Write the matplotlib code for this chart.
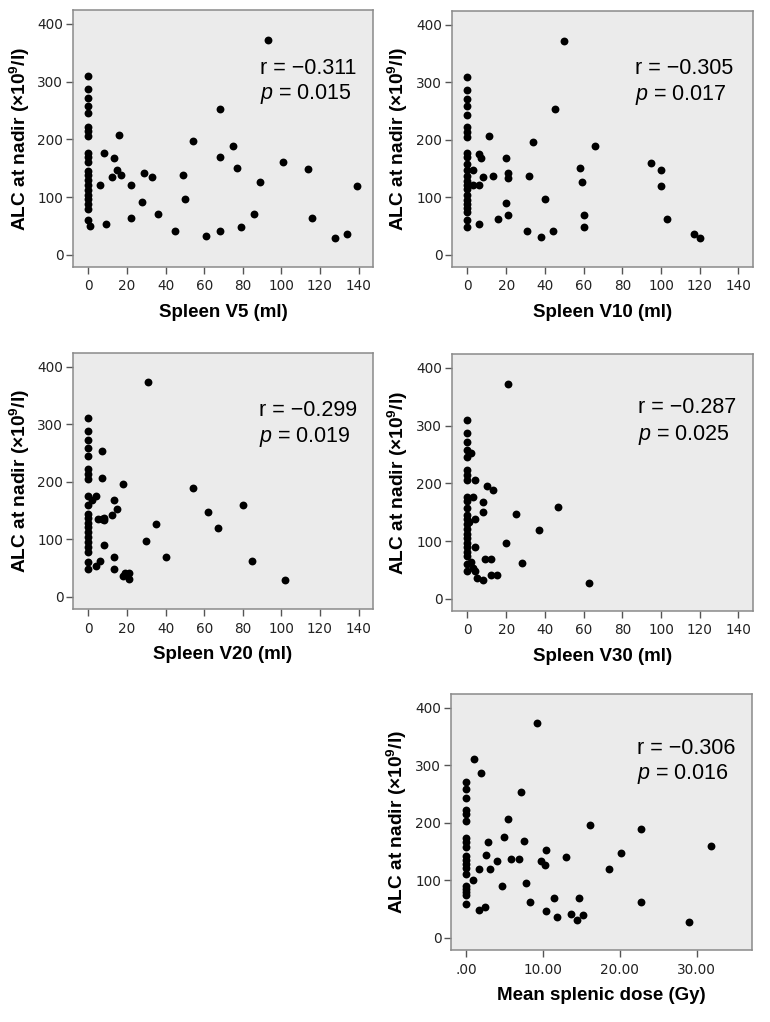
import numpy as np
import matplotlib
matplotlib.use("Agg")
import matplotlib.pyplot as plt

plt.rcParams['mathtext.fontset'] = 'custom'
plt.rcParams['mathtext.rm'] = 'Liberation Sans'
plt.rcParams['mathtext.it'] = 'Liberation Sans:italic'
plt.rcParams['mathtext.bf'] = 'Liberation Sans:bold'

# ---- data ---------------------------------------------------------------
alc_zero_v5 = [310, 287, 271, 258, 245, 222, 215, 206, 176, 169, 160, 146, 138,
               129, 121, 113, 104, 96, 88, 80, 60]
v5_x = [1, 6, 8, 9, 12, 13, 15, 16, 17, 22, 22, 28, 29, 33, 36, 45, 49, 50, 54,
        61, 68, 68, 68, 75, 77, 79, 86, 89, 93, 101, 114, 116, 128, 134, 139]
v5_y = [50, 121, 176, 54, 135, 168, 147, 207, 138, 121, 63, 91, 142, 134, 70, 41,
        138, 97, 197, 32, 253, 169, 42, 189, 151, 48, 70, 127, 372, 160, 148, 63,
        30, 37, 120]

alc_zero_v10 = [310, 287, 271, 258, 244, 222, 214, 205, 177, 170, 158, 147, 138,
                129, 122, 114, 105, 96, 89, 82, 75, 60, 49]
v10_x = [3, 3, 6, 6, 7, 8, 6, 11, 13, 16, 20, 21, 21, 20, 21, 31, 32, 34, 38, 40,
         44, 45, 50, 58, 59, 60, 60, 66, 95, 100, 100, 103, 117, 120]
v10_y = [147, 122, 176, 122, 169, 135, 54, 207, 138, 63, 169, 142, 134, 91, 70,
         41, 138, 197, 32, 97, 42, 253, 372, 151, 127, 70, 48, 189, 160, 148, 120,
         63, 37, 30]

alc_zero_v20 = [311, 288, 272, 258, 245, 223, 214, 205, 175, 160, 145, 137, 129,
                121, 112, 104, 95, 87, 78, 61, 49]
v20_x = [2, 4, 4, 5, 7, 7, 7, 8, 8, 6, 8, 12, 13, 13, 13, 15, 18, 18, 19, 21, 21,
         30, 31, 35, 40, 54, 62, 67, 80, 85, 102]
v20_y = [168, 176, 54, 135, 253, 207, 135, 138, 133, 63, 91, 142, 169, 70, 48,
         152, 197, 37, 41, 41, 32, 97, 373, 127, 70, 190, 148, 120, 160, 63, 30]

alc_zero_v30 = [310, 287, 272, 258, 245, 223, 215, 206, 176, 169, 158, 146, 138,
                129, 121, 112, 106, 97, 89, 82, 74, 60, 48]
v30_x = [1, 2, 2, 3, 3, 4, 4, 4, 4, 5, 8, 8, 8, 10, 9, 12, 13, 12, 15, 20, 21, 25,
         28, 37, 47, 63]
v30_y = [133, 252, 63, 54, 176, 206, 138, 90, 48, 37, 168, 151, 32, 196, 69, 41,
         189, 69, 41, 96, 372, 147, 62, 119, 159, 28]

alc_zero_msd = [271, 258, 244, 222, 215, 204, 174, 167, 158, 143, 136, 129, 122,
                111, 91, 85, 79, 74, 59]
msd_x = [1.0, 1.9, 0.9, 1.7, 1.7, 2.5, 2.6, 2.9, 3.1, 4.0, 4.7, 5.0, 5.5, 5.8, 6.9,
         7.2, 7.6, 7.8, 8.3, 9.2, 9.8, 10.3, 10.4, 10.4, 11.4, 11.9, 13.0, 13.7,
         14.5, 14.7, 15.2, 16.1, 18.6, 20.1, 22.7, 22.7, 29.0, 31.9]
msd_y = [311, 287, 100, 120, 48, 53, 145, 167, 120, 134, 90, 175, 206, 137, 137,
         253, 168, 96, 62, 373, 134, 126, 152, 47, 69, 36, 141, 41, 31, 69, 40,
         196, 119, 147, 189, 62, 28, 159]

r_vals = ['\u22120.311', '\u22120.305', '\u22120.299', '\u22120.287', '\u22120.306']
p_vals = ['0.015', '0.017', '0.019', '0.025', '0.016']
xlabels = ['Spleen V5 (ml)', 'Spleen V10 (ml)', 'Spleen V20 (ml)',
           'Spleen V30 (ml)', 'Mean splenic dose (Gy)']
vol_ticks = [0, 20, 40, 60, 80, 100, 120, 140]
dose_ticks = [0, 10, 20, 30]
dose_ticklabels = ['.00', '10.00', '20.00', '30.00']
y_ticks = [0, 100, 200, 300, 400]
# --------------------------------------------------------------------------

panels = [
    (alc_zero_v5, v5_x, v5_y),
    (alc_zero_v10, v10_x, v10_y),
    (alc_zero_v20, v20_x, v20_y),
    (alc_zero_v30, v30_x, v30_y),
    (alc_zero_msd, msd_x, msd_y),
]

W, H = 770, 1022
# left, top, right, bottom in pixels
boxes = [(73, 10, 373, 267), (452, 11, 753, 267),
         (73, 353, 373, 609), (452, 354, 753, 611),
         (451, 694, 752, 950)]
txt_pos = [(0.623, 0.774, 0.673), (0.608, 0.774, 0.673),
           (0.620, 0.775, 0.673), (0.618, 0.790, 0.685),
           (0.617, 0.789, 0.688)]

fig = plt.figure(figsize=(W / 100, H / 100), dpi=100)

for i, (zero_y, xs, ys) in enumerate(panels):
    l, t, r, b = boxes[i]
    ax = fig.add_axes([l / W, 1 - b / H, (r - l) / W, (b - t) / H])
    ax.set_facecolor('#ebebeb')
    allx = np.r_[np.zeros(len(zero_y)), np.array(xs, dtype=float)]
    ally = np.r_[np.array(zero_y, dtype=float), np.array(ys, dtype=float)]
    ax.scatter(allx, ally, s=32, color='black', linewidths=0, zorder=3)

    ax.set_ylim(-21, 424)
    ax.set_yticks(y_ticks)
    if i < 4:
        ax.set_xlim(-8, 147.5)
        ax.set_xticks(vol_ticks)
    else:
        ax.set_xlim(-1.95, 37.2)
        ax.set_xticks(dose_ticks)
        ax.set_xticklabels(dose_ticklabels)

    for s in ax.spines.values():
        s.set_color('#8a8a8a')
        s.set_linewidth(1.1)
    ax.tick_params(axis='both', direction='out', length=5, width=1,
                   color='#555555', labelsize=9.8, labelcolor='#222222',
                   pad=2, labelfontfamily='DejaVu Sans')
    ax.tick_params(axis='x', pad=4)

    ax.set_xlabel(xlabels[i], fontsize=13.5, fontweight='bold',
                  family='Liberation Sans')
    ax.xaxis.set_label_coords(0.5, -0.145)
    ax.set_ylabel('ALC at nadir (\u00d710$^{\\mathbf{9}}$/l)', fontsize=13.8,
                  fontweight='bold', family='Liberation Sans')
    ax.yaxis.set_label_coords(-0.138, 0.5)

    tx, ty1, ty2 = txt_pos[i]
    ax.text(tx, ty1, 'r = ' + r_vals[i], transform=ax.transAxes,
            fontsize=15.5, family='Liberation Sans', va='center', ha='left')
    ax.text(tx, ty2, '$p$ = ' + p_vals[i], transform=ax.transAxes,
            fontsize=15.5, family='Liberation Sans', va='center', ha='left')

fig.savefig('out.png', dpi=100)
